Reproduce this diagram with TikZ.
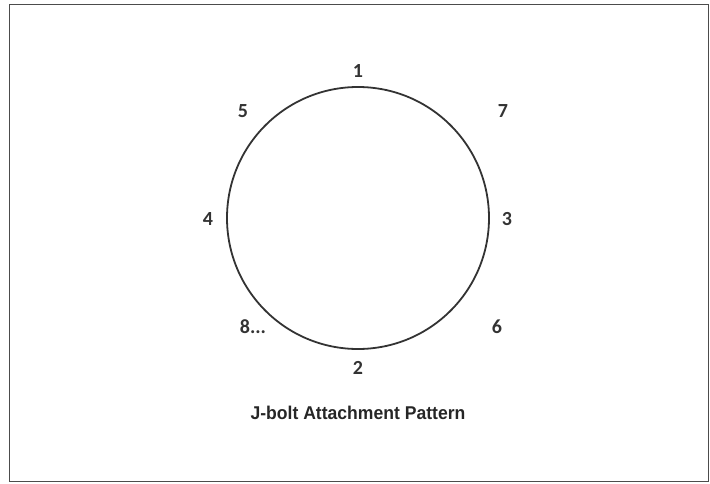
\documentclass[tikz,border=0pt]{standalone}
\usepackage{fontspec}
\setmainfont{Carlito}
\newfontfamily\titlefont[FakeStretch=0.95]{Liberation Sans}
\definecolor{inkgray}{HTML}{333333}
\begin{document}
\begin{tikzpicture}[x=1pt,y=1pt,
  boltnum/.style={text=inkgray,font=\bfseries\fontsize{20}{24}\selectfont,inner sep=0pt},
  ringline/.style={draw=inkgray,line width=1.8pt}]
\useasboundingbox (0,0) rectangle (710,483);
\draw[gray!60!black,line width=1pt] (9,2) rectangle (708,478);
 \node[ringline,circle,minimum size=262pt,inner sep=0pt] (ring) at (358,265) {};
  \node[boltnum] (b1) at (358,412) {1};
  \node[boltnum] (b7) at (503,372) {7};
  \node[boltnum] (b3) at (507,264) {3};
  \node[boltnum] (b6) at (497,156) {6};
  \node[boltnum] (b2) at (358,115) {2};
  \node[boltnum] (b8) at (253,156) {8...};
  \node[boltnum] (b4) at (208,264) {4};
  \node[boltnum] (b5) at (243,372) {5};
  \node[text=black!85,font=\titlefont\bfseries\fontsize{18.5}{21}\selectfont] (caption) at (358,70) {J-bolt Attachment Pattern};
\end{tikzpicture}
\end{document}
